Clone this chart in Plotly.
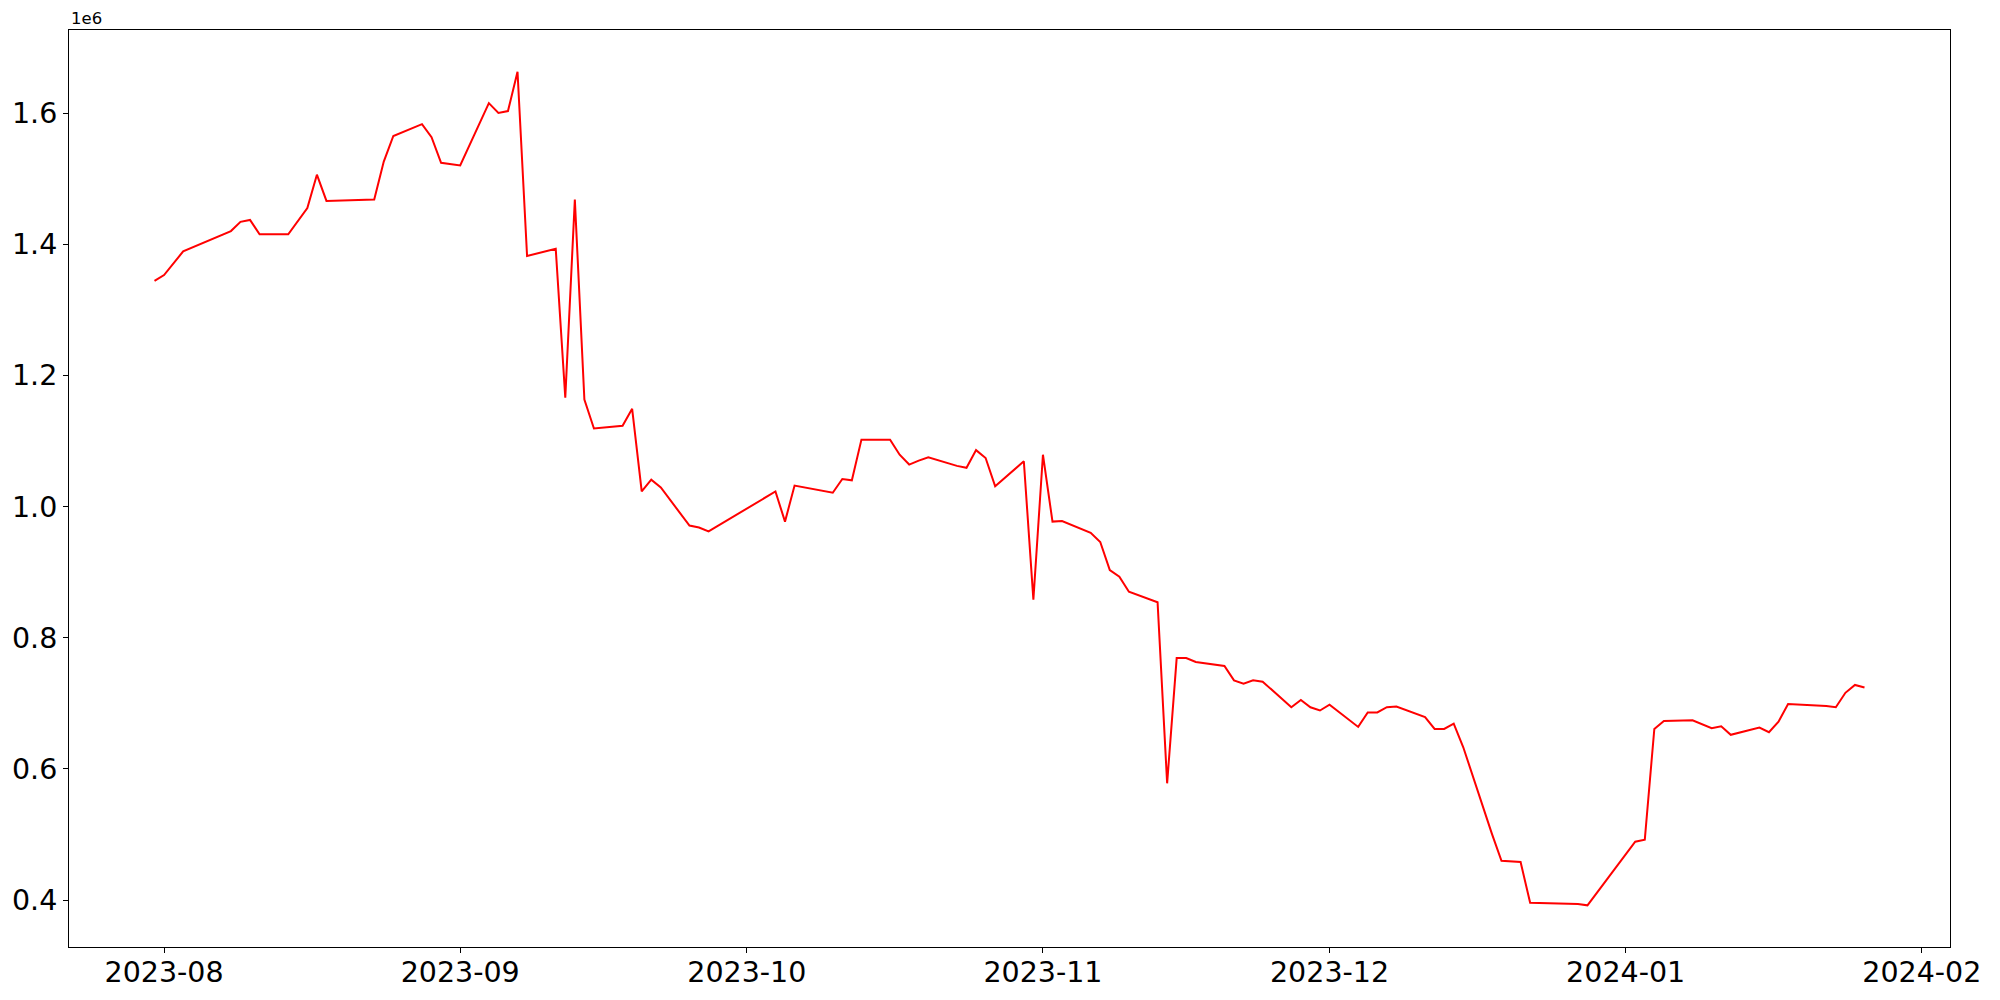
import pandas as pd
import plotly.graph_objects as go

dates = [
    "2023-07-31", "2023-08-01", "2023-08-03", "2023-08-08", "2023-08-09", "2023-08-10",
    "2023-08-11", "2023-08-14", "2023-08-16", "2023-08-17", "2023-08-18", "2023-08-23",
    "2023-08-24", "2023-08-25", "2023-08-28", "2023-08-29", "2023-08-30", "2023-09-01",
    "2023-09-04", "2023-09-05", "2023-09-06", "2023-09-07", "2023-09-08", "2023-09-11",
    "2023-09-12", "2023-09-13", "2023-09-14", "2023-09-15", "2023-09-18", "2023-09-19",
    "2023-09-20", "2023-09-21", "2023-09-22", "2023-09-25", "2023-09-26", "2023-09-27",
    "2023-10-04", "2023-10-05", "2023-10-06", "2023-10-10", "2023-10-11", "2023-10-12",
    "2023-10-13", "2023-10-16", "2023-10-17", "2023-10-18", "2023-10-19", "2023-10-20",
    "2023-10-23", "2023-10-24", "2023-10-25", "2023-10-26", "2023-10-27", "2023-10-30",
    "2023-10-31", "2023-11-01", "2023-11-02", "2023-11-03", "2023-11-06", "2023-11-07",
    "2023-11-08", "2023-11-09", "2023-11-10", "2023-11-13", "2023-11-14", "2023-11-15",
    "2023-11-16", "2023-11-17", "2023-11-20", "2023-11-21", "2023-11-22", "2023-11-23",
    "2023-11-24", "2023-11-27", "2023-11-28", "2023-11-29", "2023-11-30", "2023-12-01",
    "2023-12-04", "2023-12-05", "2023-12-06", "2023-12-07", "2023-12-08", "2023-12-11",
    "2023-12-12", "2023-12-13", "2023-12-14", "2023-12-15", "2023-12-18", "2023-12-19",
    "2023-12-21", "2023-12-22", "2023-12-27", "2023-12-28", "2024-01-02", "2024-01-03",
    "2024-01-04", "2024-01-05", "2024-01-08", "2024-01-09", "2024-01-10", "2024-01-11",
    "2024-01-12", "2024-01-15", "2024-01-16", "2024-01-17", "2024-01-18", "2024-01-22",
    "2024-01-23", "2024-01-24", "2024-01-25", "2024-01-26",
]
values = [
    1344000, 1353000, 1389000, 1420000, 1434000, 1437000,
    1415000, 1415000, 1455000, 1506000, 1466000, 1468000,
    1526000, 1565000, 1583000, 1563000, 1524000, 1520000,
    1615000, 1600000, 1603000, 1663000, 1382000, 1393000,
    1166000, 1468000, 1163000, 1119000, 1123000, 1149000,
    1023000, 1041000, 1029000, 971000, 968000, 962000,
    1023000, 977000, 1032000, 1021000, 1042000, 1040000,
    1102000, 1102000, 1079000, 1064000, 1070000, 1075000,
    1062000, 1059000, 1086000, 1074000, 1031000, 1069000,
    858000, 1079000, 977000, 978000, 960000, 946000,
    903000, 893000, 870000, 854000, 578000, 769000,
    769000, 763000, 757000, 735000, 730000, 735000,
    733000, 694000, 705000, 694000, 689000, 698000,
    664000, 686000, 686000, 694000, 695000, 679000,
    661000, 661000, 669000, 633000, 501000, 460000,
    458000, 396000, 394000, 392000, 489000, 492000,
    661000, 673000, 674000, 668000, 662000, 665000,
    652000, 663000, 656000, 672000, 699000, 696000,
    694000, 716000, 728000, 724000,
]

y_ticks = [400000, 600000, 800000, 1000000, 1200000, 1400000, 1600000]
y_tick_labels = ["0.4", "0.6", "0.8", "1.0", "1.2", "1.4", "1.6"]

x = pd.to_datetime(dates)
# matplotlib-like 5% data margins
x_pad = (x.max() - x.min()) * 0.05
y_pad = (max(values) - min(values)) * 0.05

fig = go.Figure()
fig.add_trace(
    go.Scatter(
        x=x, y=values, mode="lines",
        line=dict(color="#ff0000", width=2),
        showlegend=False,
    )
)

axis_common = dict(
    showline=True, linecolor="black", linewidth=1, mirror=True,
    ticks="outside", ticklen=5, tickwidth=1, tickcolor="black",
    showgrid=False, zeroline=False, automargin=False,
    tickfont=dict(family="DejaVu Sans", size=28.5, color="black"),
)

# the page body adds an 8px offset, margins compensate for it
fig.update_layout(
    width=2000, height=1000,
    paper_bgcolor="white", plot_bgcolor="white",
    margin=dict(l=61, r=58, t=22, b=61),
    font=dict(family="DejaVu Sans", color="black"),
    xaxis=dict(
        **axis_common,
        type="date",
        range=[x.min() - x_pad, x.max() + x_pad],
        tick0="2023-08-01", dtick="M1", tickformat="%Y-%m",
        ticklabelstandoff=-5,
    ),
    yaxis=dict(
        **axis_common,
        range=[min(values) - y_pad, max(values) + y_pad],
        tickvals=y_ticks, ticktext=y_tick_labels,
    ),
)

fig.add_annotation(
    text="1e6", xref="paper", yref="paper", x=0, y=1,
    xanchor="left", yanchor="bottom", showarrow=False,
    font=dict(family="DejaVu Sans", size=16.5, color="black"),
)

fig.write_html("out.html")
